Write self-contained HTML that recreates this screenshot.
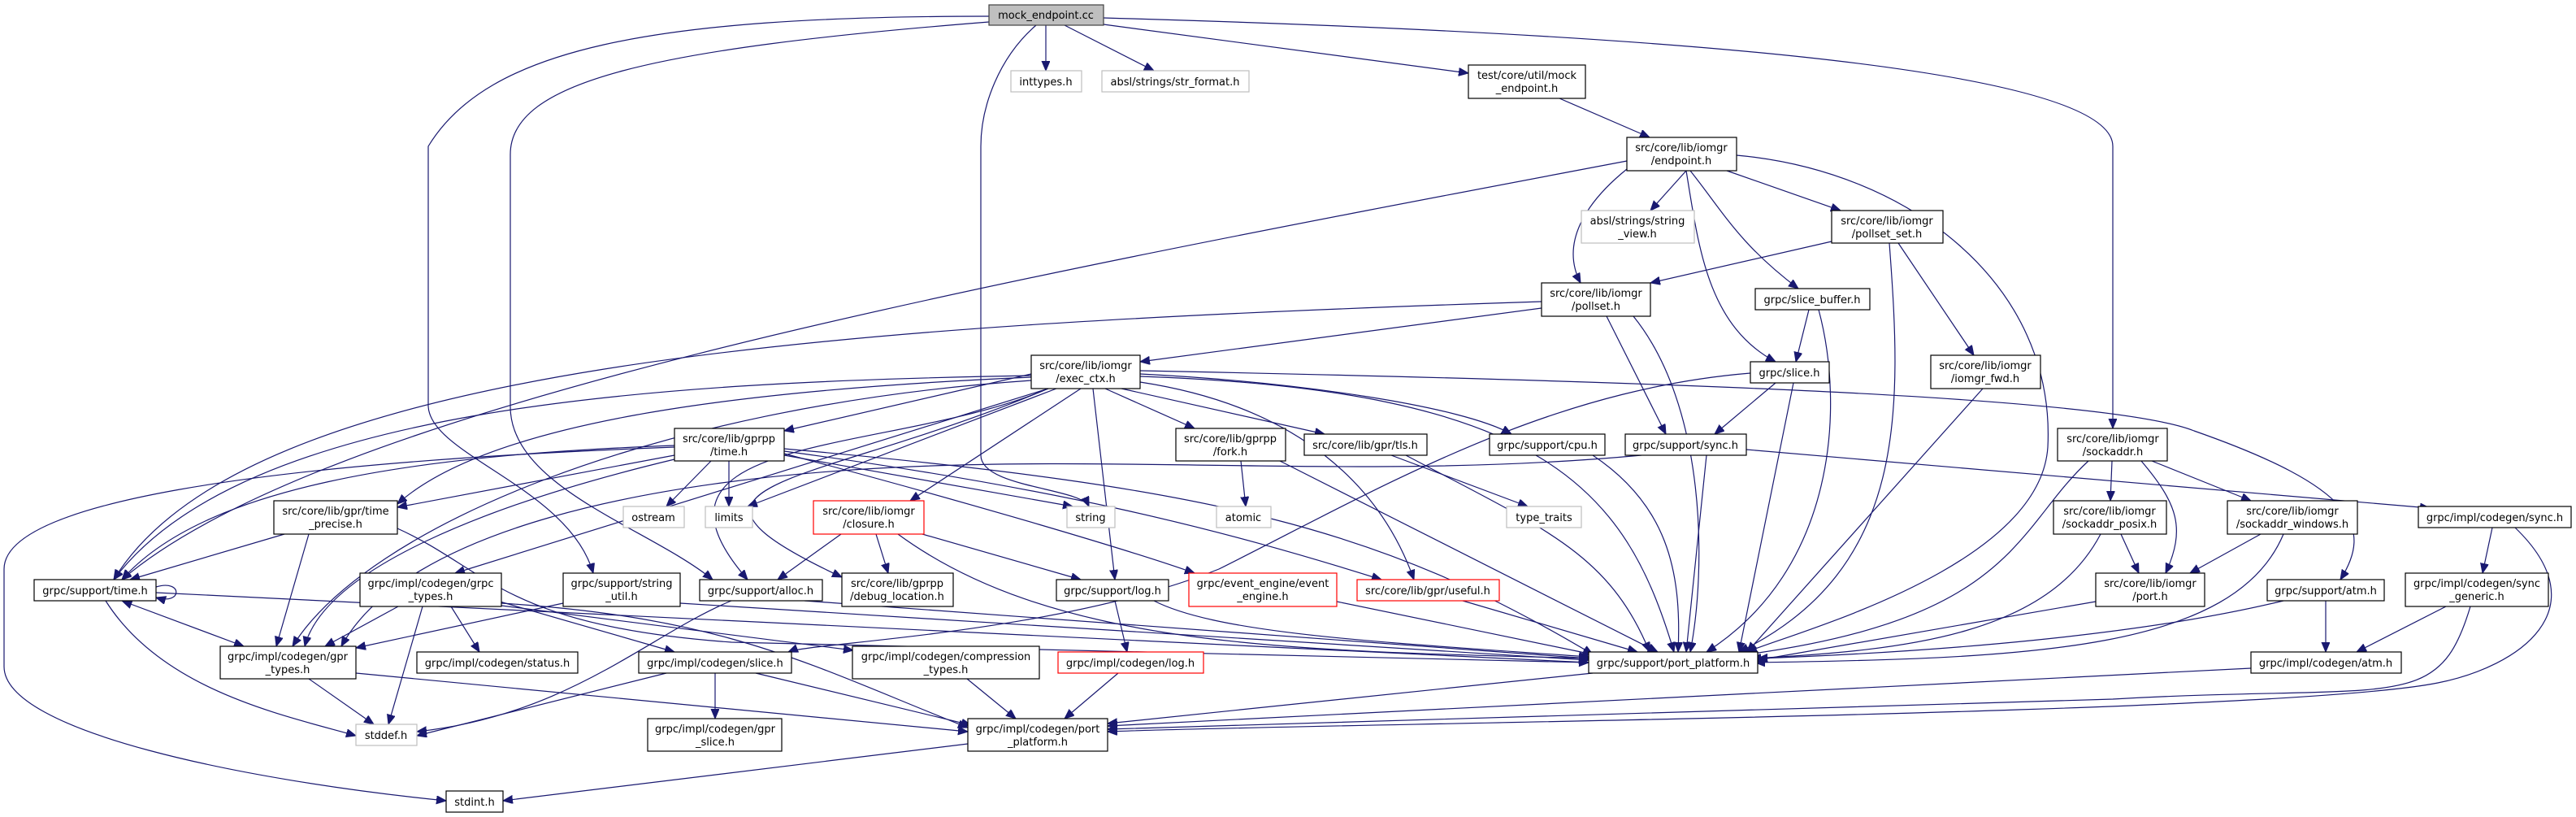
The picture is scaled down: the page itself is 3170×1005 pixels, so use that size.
<!DOCTYPE html>
<html><head><meta charset="utf-8"><style>
html,body{margin:0;padding:0;background:#fff;}
svg{display:block;}
text{font-family:"DejaVu Sans","Liberation Sans",sans-serif;font-size:13px;fill:#000;text-anchor:middle;}
.n{fill:#fff;stroke:#000;stroke-width:1.2;}
.g{fill:#fff;stroke:#bfbfbf;stroke-width:1.2;}
.r{fill:#fff;stroke:#ff0000;stroke-width:1.2;}
.root{fill:#bfbfbf;stroke:#404040;stroke-width:1.2;}
path{fill:none;stroke:#191970;stroke-width:1.2;}
</style></head><body>
<svg width="3170" height="1005" viewBox="0 0 3170 1005" xmlns="http://www.w3.org/2000/svg">
<defs>
<marker id="a" markerUnits="userSpaceOnUse" markerWidth="14" markerHeight="12" refX="12" refY="5" orient="auto">
<path d="M0,0 L12,5 L0,10 Z" style="fill:#191970;stroke:#191970;stroke-width:1"/>
</marker>
<marker id="s" markerUnits="userSpaceOnUse" markerWidth="14" markerHeight="12" refX="0" refY="5" orient="auto">
<path d="M12,0 L0,5 L12,10 Z" style="fill:#191970;stroke:#191970;stroke-width:1"/>
</marker>
</defs>
<g marker-end="url(#a)">
<path d="M1287,31 L1287,87"/>
<path d="M1310,31 L1420,87"/>
<path d="M1358,30 L1807,90"/>
<path d="M1275,31 C1230,70 1207,130 1207,180 L1207,560 C1207,600 1330,600 1340,623"/>
<path d="M1358,22 C2000,40 2600,80 2600,180 L2600,527"/>
<path d="M1217,20 C800,20 600,60 527,180 L527,500 C530,560 700,600 730,705"/>
<path d="M1217,27 C800,60 628,100 628,190 L628,500 C628,600 800,650 877,713"/>
<path d="M1919,121 L2030,169"/>
<path d="M2075,210 L2031,259"/>
<path d="M2002,208 C1950,250 1920,300 1945,348"/>
<path d="M2125,210 L2265,259"/>
<path d="M2080,210 C2120,260 2140,300 2213,355"/>
<path d="M2075,210 C2090,300 2100,400 2185,445"/>
<path d="M2137,191 C2350,210 2530,350 2520,550 C2510,700 2200,780 2150,802"/>
<path d="M2002,198 C1200,350 400,500 150,713"/>
<path d="M2254,297 L2031,348"/>
<path d="M2336,299 L2429,437"/>
<path d="M2325,299 C2340,500 2350,700 2140,802"/>
<path d="M1897,379 L1403,445"/>
<path d="M1977,389 L2050,534"/>
<path d="M2010,389 C2100,500 2100,700 2080,802"/>
<path d="M1897,371 C1000,400 300,450 140,713"/>
<path d="M2226,381 L2210,445"/>
<path d="M2238,381 C2270,500 2260,700 2100,802"/>
<path d="M2185,471 L2110,534"/>
<path d="M2207,471 L2140,802"/>
<path d="M2154,459 C1900,480 1700,600 1500,700 C1300,780 1000,790 970,802"/>
<path d="M2440,478 L2150,802"/>
<path d="M1269,460 L965,530"/>
<path d="M1269,464 C900,480 600,520 489,620"/>
<path d="M1269,462 C800,470 300,500 140,713"/>
<path d="M1269,468 C800,500 450,650 360,795"/>
<path d="M1290,478 L560,705"/>
<path d="M1290,478 C1100,560 760,530 920,713"/>
<path d="M1330,478 L1120,616"/>
<path d="M1300,478 L920,623"/>
<path d="M1360,478 L1470,527"/>
<path d="M1380,478 L1630,534"/>
<path d="M1403,460 C1600,470 1800,500 1860,534"/>
<path d="M1345,478 L1372,713"/>
<path d="M1403,456 C2100,470 2600,490 2700,530 C2900,600 2920,650 2880,713"/>
<path d="M1403,463 C1900,480 2000,600 2060,802"/>
<path d="M1290,478 C1000,600 780,590 1036,710"/>
<path d="M1403,470 C1600,500 1700,600 1740,713"/>
<path d="M875,567 L820,623"/>
<path d="M897,567 L897,623"/>
<path d="M965,560 L1320,623"/>
<path d="M830,560 L489,624"/>
<path d="M830,548 C500,560 250,600 150,713"/>
<path d="M830,565 C600,620 400,700 375,795"/>
<path d="M830,550 C300,570 5,620 5,700 L5,820 C5,900 300,960 549,985"/>
<path d="M965,555 C1300,600 1500,650 1700,713"/>
<path d="M965,558 C1200,620 1400,680 1470,705"/>
<path d="M965,552 C1500,600 1700,650 1960,805"/>
<path d="M350,657 L160,713"/>
<path d="M380,657 L340,795"/>
<path d="M489,650 C600,700 620,770 900,790 L1955,815"/>
<path d="M192,722 C225,712 225,745 192,735"/>
<path d="M150,739 L300,795" marker-start="url(#s)"/>
<path d="M130,739 C200,850 350,880 438,905"/>
<path d="M192,729 L1955,815"/>
<path d="M490,746 L400,795"/>
<path d="M555,746 L590,802"/>
<path d="M615,740 L830,802"/>
<path d="M617,745 L1050,800"/>
<path d="M520,746 L478,891"/>
<path d="M617,742 C900,760 1000,820 1191,895"/>
<path d="M693,742 L438,797"/>
<path d="M837,742 L1955,812"/>
<path d="M900,739 C800,780 700,880 513,900"/>
<path d="M990,739 L1955,810"/>
<path d="M1035,657 L957,713"/>
<path d="M1078,657 L1093,705"/>
<path d="M1135,657 L1330,713"/>
<path d="M1105,657 C1300,800 1600,800 1960,810"/>
<path d="M380,835 L460,891"/>
<path d="M438,828 L1191,900"/>
<path d="M820,828 L513,905"/>
<path d="M880,828 L880,884"/>
<path d="M930,828 L1195,892"/>
<path d="M1190,835 L1250,884"/>
<path d="M1376,828 L1310,884"/>
<path d="M1372,739 L1387,802"/>
<path d="M1420,739 C1500,780 1700,790 1955,808"/>
<path d="M1645,740 L1960,805"/>
<path d="M1800,739 L2015,802"/>
<path d="M1527,567 L1533,623"/>
<path d="M1575,567 L2040,802"/>
<path d="M1712,560 L1880,623"/>
<path d="M1730,560 C1900,650 1980,680 2030,802"/>
<path d="M1960,560 C2050,620 2070,700 2065,802"/>
<path d="M2100,560 L2075,802"/>
<path d="M2149,553 L2990,625"/>
<path d="M2020,560 C1700,590 1400,560 1100,575 C800,590 500,650 420,795"/>
<path d="M1960,828 L1363,890"/>
<path d="M1191,915 L619,985"/>
<path d="M2599,567 L2597,616"/>
<path d="M2648,567 L2770,616"/>
<path d="M2635,567 C2680,620 2690,650 2665,705"/>
<path d="M2570,567 C2480,650 2480,760 2150,805"/>
<path d="M2610,657 L2632,705"/>
<path d="M2585,657 C2520,780 2350,800 2155,810"/>
<path d="M2782,657 L2695,705"/>
<path d="M2810,657 C2750,800 2500,810 2160,815"/>
<path d="M2579,740 L2163,812"/>
<path d="M2862,739 L2862,802"/>
<path d="M2810,739 C2600,790 2300,805 2163,810"/>
<path d="M3067,649 L3055,705"/>
<path d="M3095,649 C3200,750 3100,820 3000,840 C2800,880 1600,890 1363,900"/>
<path d="M3010,746 L2900,802"/>
<path d="M3040,746 C3000,880 2950,840 2600,860 L1363,897"/>
<path d="M2770,822 L1363,893"/>
</g>

<!-- nodes -->
<rect class="root" x="1217" y="6" width="141" height="25"/><text x="1287" y="23">mock_endpoint.cc</text>
<rect class="g" x="1244" y="87" width="87" height="26"/><text x="1287" y="105">inttypes.h</text>
<rect class="g" x="1356" y="87" width="181" height="26"/><text x="1446" y="105">absl/strings/str_format.h</text>
<rect class="n" x="1807" y="80" width="144" height="41"/><text x="1879" y="97">test/core/util/mock</text><text x="1879" y="113">_endpoint.h</text>
<rect class="n" x="2002" y="169" width="135" height="41"/><text x="2069" y="186">src/core/lib/iomgr</text><text x="2069" y="202">/endpoint.h</text>
<rect class="g" x="1946" y="259" width="139" height="40"/><text x="2015" y="276">absl/strings/string</text><text x="2015" y="292">_view.h</text>
<rect class="n" x="2254" y="259" width="137" height="40"/><text x="2322" y="276">src/core/lib/iomgr</text><text x="2322" y="292">/pollset_set.h</text>
<rect class="n" x="1897" y="348" width="134" height="41"/><text x="1964" y="365">src/core/lib/iomgr</text><text x="1964" y="381">/pollset.h</text>
<rect class="n" x="2160" y="355" width="141" height="26"/><text x="2230" y="373">grpc/slice_buffer.h</text>
<rect class="n" x="2154" y="445" width="97" height="26"/><text x="2202" y="463">grpc/slice.h</text>
<rect class="n" x="2376" y="437" width="135" height="41"/><text x="2443" y="454">src/core/lib/iomgr</text><text x="2443" y="470">/iomgr_fwd.h</text>
<rect class="n" x="1269" y="437" width="134" height="41"/><text x="1336" y="454">src/core/lib/iomgr</text><text x="1336" y="470">/exec_ctx.h</text>
<rect class="n" x="830" y="527" width="135" height="40"/><text x="897" y="544">src/core/lib/gprpp</text><text x="897" y="560">/time.h</text>
<rect class="n" x="337" y="616" width="152" height="41"/><text x="413" y="633">src/core/lib/gpr/time</text><text x="413" y="649">_precise.h</text>
<rect class="g" x="767" y="623" width="75" height="26"/><text x="804" y="641">ostream</text>
<rect class="g" x="868" y="623" width="58" height="26"/><text x="897" y="641">limits</text>
<rect class="r" x="1001" y="616" width="136" height="41"/><text x="1069" y="633">src/core/lib/iomgr</text><text x="1069" y="649">/closure.h</text>
<rect class="n" x="42" y="713" width="150" height="26"/><text x="117" y="731">grpc/support/time.h</text>
<rect class="n" x="443" y="705" width="174" height="41"/><text x="530" y="722">grpc/impl/codegen/grpc</text><text x="530" y="738">_types.h</text>
<rect class="n" x="693" y="705" width="144" height="41"/><text x="765" y="722">grpc/support/string</text><text x="765" y="738">_util.h</text>
<rect class="n" x="861" y="713" width="151" height="26"/><text x="936" y="731">grpc/support/alloc.h</text>
<rect class="n" x="1036" y="705" width="137" height="41"/><text x="1104" y="722">src/core/lib/gprpp</text><text x="1104" y="738">/debug_location.h</text>
<rect class="n" x="271" y="795" width="167" height="40"/><text x="354" y="812">grpc/impl/codegen/gpr</text><text x="354" y="828">_types.h</text>
<rect class="n" x="513" y="802" width="198" height="26"/><text x="612" y="820">grpc/impl/codegen/status.h</text>
<rect class="n" x="786" y="802" width="188" height="26"/><text x="880" y="820">grpc/impl/codegen/slice.h</text>
<rect class="n" x="1049" y="795" width="230" height="40"/><text x="1164" y="812">grpc/impl/codegen/compression</text><text x="1164" y="828">_types.h</text>
<rect class="g" x="438" y="891" width="75" height="26"/><text x="475" y="909">stddef.h</text>
<rect class="n" x="797" y="884" width="165" height="40"/><text x="880" y="901">grpc/impl/codegen/gpr</text><text x="880" y="917">_slice.h</text>
<rect class="n" x="549" y="973" width="70" height="26"/><text x="584" y="991">stdint.h</text>
<rect class="n" x="1447" y="527" width="135" height="40"/><text x="1514" y="544">src/core/lib/gprpp</text><text x="1514" y="560">/fork.h</text>
<rect class="n" x="1605" y="534" width="151" height="26"/><text x="1680" y="552">src/core/lib/gpr/tls.h</text>
<rect class="n" x="1833" y="534" width="142" height="26"/><text x="1904" y="552">grpc/support/cpu.h</text>
<rect class="n" x="2000" y="534" width="149" height="26"/><text x="2074" y="552">grpc/support/sync.h</text>
<rect class="g" x="1313" y="623" width="59" height="26"/><text x="1342" y="641">string</text>
<rect class="g" x="1497" y="623" width="67" height="26"/><text x="1530" y="641">atomic</text>
<rect class="g" x="1854" y="623" width="92" height="26"/><text x="1900" y="641">type_traits</text>
<rect class="n" x="1300" y="713" width="138" height="26"/><text x="1369" y="731">grpc/support/log.h</text>
<rect class="r" x="1463" y="705" width="182" height="41"/><text x="1554" y="722">grpc/event_engine/event</text><text x="1554" y="738">_engine.h</text>
<rect class="r" x="1670" y="713" width="175" height="26"/><text x="1757" y="731">src/core/lib/gpr/useful.h</text>
<rect class="r" x="1302" y="802" width="179" height="26"/><text x="1391" y="820">grpc/impl/codegen/log.h</text>
<rect class="n" x="1955" y="802" width="208" height="26"/><text x="2059" y="820">grpc/support/port_platform.h</text>
<rect class="n" x="1191" y="884" width="172" height="40"/><text x="1277" y="901">grpc/impl/codegen/port</text><text x="1277" y="917">_platform.h</text>
<rect class="n" x="2532" y="527" width="135" height="40"/><text x="2600" y="544">src/core/lib/iomgr</text><text x="2600" y="560">/sockaddr.h</text>
<rect class="n" x="2527" y="616" width="139" height="41"/><text x="2596" y="633">src/core/lib/iomgr</text><text x="2596" y="649">/sockaddr_posix.h</text>
<rect class="n" x="2741" y="616" width="160" height="41"/><text x="2821" y="633">src/core/lib/iomgr</text><text x="2821" y="649">/sockaddr_windows.h</text>
<rect class="n" x="2976" y="623" width="188" height="26"/><text x="3070" y="641">grpc/impl/codegen/sync.h</text>
<rect class="n" x="2579" y="705" width="134" height="41"/><text x="2646" y="722">src/core/lib/iomgr</text><text x="2646" y="738">/port.h</text>
<rect class="n" x="2790" y="713" width="144" height="26"/><text x="2862" y="731">grpc/support/atm.h</text>
<rect class="n" x="2960" y="705" width="176" height="41"/><text x="3048" y="722">grpc/impl/codegen/sync</text><text x="3048" y="738">_generic.h</text>
<rect class="n" x="2770" y="802" width="185" height="26"/><text x="2862" y="820">grpc/impl/codegen/atm.h</text>
</svg>
</body></html>
